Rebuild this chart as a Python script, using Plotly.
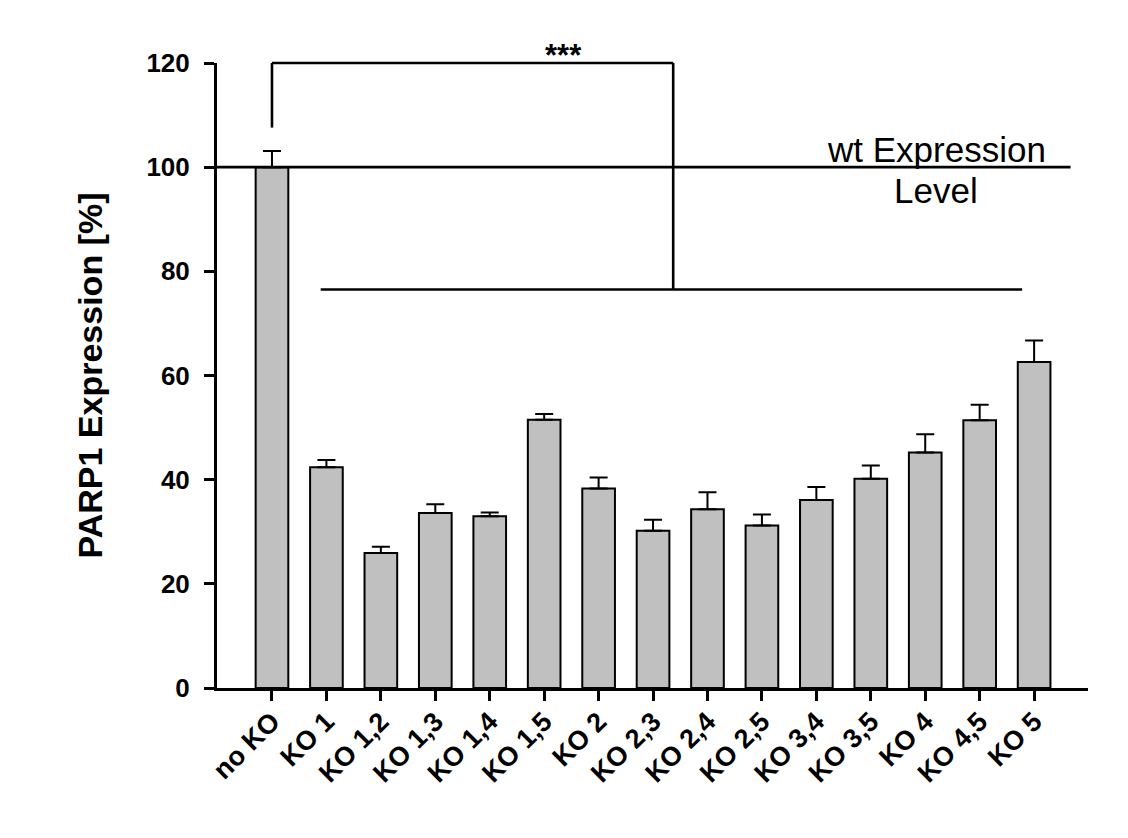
import plotly.graph_objects as go

# ---- data ----
categories = ["no KO", "KO 1", "KO 1,2", "KO 1,3", "KO 1,4", "KO 1,5", "KO 2", "KO 2,3",
              "KO 2,4", "KO 2,5", "KO 3,4", "KO 3,5", "KO 4", "KO 4,5", "KO 5"]
expression = [100.0, 42.4, 25.9, 33.6, 33.0, 51.5, 38.3, 30.2, 34.3, 31.2, 36.1, 40.2, 45.2, 51.4, 62.6]
sem = [3.1, 1.4, 1.2, 1.7, 0.7, 1.1, 2.1, 2.1, 3.3, 2.1, 2.5, 2.5, 3.5, 3.0, 4.1]
y_ticks = [0, 20, 40, 60, 80, 100, 120]
wt_level = 100

positions = list(range(len(categories)))

W, H = 1128, 838
ML, MR, MT, MB = 209, 48, 55, 158
FONT = "Liberation Sans, Arial, sans-serif"

fig = go.Figure()
fig.add_trace(go.Bar(
    x=positions, y=expression, width=0.6,
    marker=dict(color="#c0c0c0", line=dict(color="black", width=2)),
    error_y=dict(type="data", symmetric=False, array=sem, arrayminus=[0] * len(sem),
                 color="black", thickness=2, width=9),
    showlegend=False,
))

LW = 2.6
shapes = []
# wt expression level line
shapes.append(dict(type="line", xref="x", yref="y", x0=-1.01, x1=14.67, y0=wt_level, y1=wt_level,
                   line=dict(color="black", width=LW)))
# significance bracket
shapes.append(dict(type="line", xref="x", yref="y", x0=0, x1=0, y0=107.6, y1=120,
                   line=dict(color="black", width=LW)))
shapes.append(dict(type="line", xref="x", yref="y domain", x0=0, x1=7.37, y0=1, y1=1,
                   line=dict(color="black", width=LW)))
shapes.append(dict(type="line", xref="x", yref="y", x0=7.37, x1=7.37, y0=76.5, y1=120,
                   line=dict(color="black", width=LW)))
shapes.append(dict(type="line", xref="x", yref="y", x0=0.895, x1=13.78, y0=76.5, y1=76.5,
                   line=dict(color="black", width=LW)))

annotations = [
    dict(text="***", x=5.35, y=1.012, xref="x", yref="y domain", showarrow=False,
         xanchor="center", yanchor="middle",
         font=dict(family=FONT, size=31, color="black", weight="bold")),
    dict(text="wt Expression", x=12.2, y=103.3, xref="x", yref="y", showarrow=False,
         xanchor="center", yanchor="middle",
         font=dict(family=FONT, size=35, color="black")),
    dict(text="Level", x=12.2, y=95.6, xref="x", yref="y", showarrow=False,
         xanchor="center", yanchor="middle",
         font=dict(family=FONT, size=35, color="black")),
]

fig.update_layout(
    width=W, height=H,
    margin=dict(l=ML, r=MR, t=MT, b=MB),
    paper_bgcolor="white", plot_bgcolor="white",
    shapes=shapes, annotations=annotations,
    font=dict(family=FONT, color="black"),
    bargap=0.4,
)
fig.update_xaxes(
    range=[-1.01, 14.99], tickmode="array", tickvals=positions, ticktext=categories,
    tickangle=-45, ticks="outside", ticklen=10, tickwidth=3, tickcolor="black",
    showline=True, linecolor="black", linewidth=3, showgrid=False, zeroline=False,
    tickfont=dict(family=FONT, size=27, color="black", weight="bold"),
    ticklabelstandoff=-6,
)
fig.update_yaxes(
    range=[0, 120], tickmode="array", tickvals=y_ticks,
    ticks="outside", ticklen=10, tickwidth=3, tickcolor="black",
    showline=True, linecolor="black", linewidth=3, showgrid=False, zeroline=False,
    tickfont=dict(family=FONT, size=26, color="black", weight="bold"),
    ticklabelstandoff=9,
    title=dict(text="PARP1 Expression [%]", standoff=34,
               font=dict(family=FONT, size=34, color="black", weight="bold")),
)

fig.write_html("out.html")
